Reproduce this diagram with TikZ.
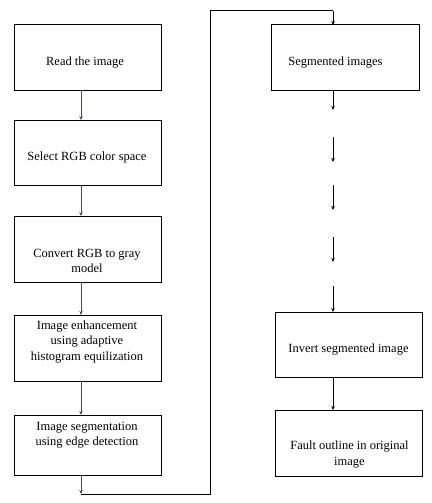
\documentclass[tikz,border=0pt]{standalone}
\usepackage{fontspec}
\setmainfont{Liberation Serif}
\usetikzlibrary{arrows.meta}
\definecolor{arrgreen}{RGB}{70,85,60}
\definecolor{arrpurple}{RGB}{90,65,105}
\begin{document}
\begin{tikzpicture}[x=1pt,y=-1pt,
  box/.style={draw=black,line width=1pt,minimum width=147pt,inner sep=0pt,outer sep=0pt},
  txt/.style={font=\fontsize{12.5}{15.5}\selectfont,align=center,inner sep=0pt},
  arr/.style={line width=0.8pt,-{Stealth[length=4pt,width=3.5pt]}},
  lin/.style={line width=1pt}]
\useasboundingbox (0,0) rectangle (431,503);
% left column
\node[box,minimum height=65pt] (b1) at (87.5,57.5) {};
\node[box,minimum height=65pt] (b2) at (87.5,152.5) {};
\node[box,minimum height=66pt] (b3) at (87.5,249) {};
\node[box,minimum height=66pt] (b4) at (87.5,348) {};
\node[box,minimum height=60pt] (b5) at (87.5,445) {};
\node[txt] (t1) at (85,63) {Read the image};
\node[txt] (t2) at (87,157) {Select RGB color space};
\node[txt] (t3) at (87,261) {Convert RGB to gray\\model};
\node[txt] (t4) at (87,342) {Image enhancement\\using adaptive\\histogram equilization};
\node[txt] (t5) at (87,435) {Image segmentation\\using edge detection};
% right column
\node[box,minimum width=148pt,minimum height=65pt] (r1) at (345,57.5) {};
\node[box,minimum height=65pt] (r2) at (348.5,344.5) {};
\node[box,minimum height=66pt] (r3) at (348.5,443) {};
\node[txt] (s1) at (335.5,63) {Segmented images};
\node[txt] (s2) at (348.5,350) {Invert segmented image};
\node[txt] (s3) at (349.5,454.5) {Fault outline in original\\image};
% coordinates
\coordinate (lb) at (81,494);
\coordinate (cr) at (210,494);
\coordinate (ct) at (210,11);
\coordinate (tr) at (333,11);
\coordinate (d1) at (333,110);
\coordinate (d2a) at (333,137);
\coordinate (d2b) at (333,162);
\coordinate (d3a) at (333,185);
\coordinate (d3b) at (333,210);
\coordinate (d4a) at (333,237);
\coordinate (d4b) at (333,262);
\coordinate (d5a) at (333,286);
% left arrows
\draw[arr,draw=arrgreen] (b1.south -| lb) -- (b2.north -| lb);
\draw[arr,draw=arrpurple] (b2.south -| lb) -- (b3.north -| lb);
\draw[arr,draw=arrpurple] (b3.south -| lb) -- (b4.north -| lb);
\draw[arr,draw=arrpurple] (b4.south -| lb) -- (b5.north -| lb);
\draw[arr,draw=arrpurple] (b5.south -| lb) -- (lb);
% connector to right column
\draw[lin] (lb) -- (cr) -- (ct) -- (tr);
\draw[arr] (tr) -- (r1.north -| tr);
% right arrows
\draw[arr] (r1.south -| tr) -- (d1);
\draw[arr] (d2a) -- (d2b);
\draw[arr] (d3a) -- (d3b);
\draw[arr] (d4a) -- (d4b);
\draw[arr] (d5a) -- (r2.north -| tr);
\draw[arr] (r2.south -| tr) -- (r3.north -| tr);
\end{tikzpicture}
\end{document}
